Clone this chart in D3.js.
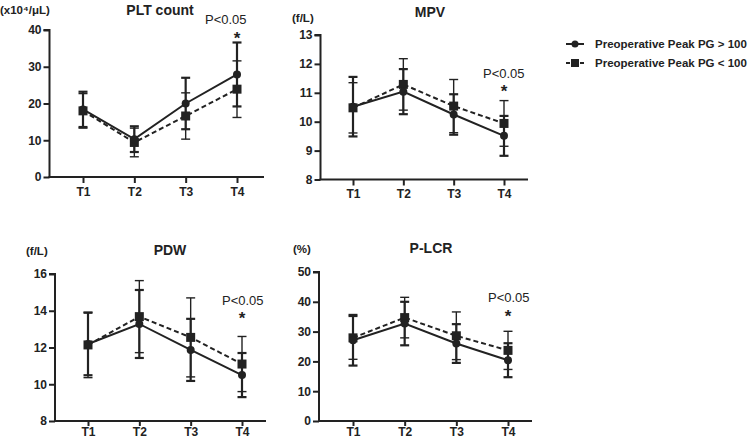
<!DOCTYPE html>
<html><head><meta charset="utf-8">
<script src="https://cdn.jsdelivr.net/npm/d3@7"></script>
<style>
body{margin:0;background:#fff;}
svg{font-family:Arial,"Liberation Sans",sans-serif;}
</style></head>
<body><svg id="c" width="751" height="440"></svg>
<script>
const categories = ["T1","T2","T3","T4"];
const seriesNames = ["Preoperative Peak PG > 100","Preoperative Peak PG < 100"];

// PLT count
const pltHighMean = [18.4, 10.3, 20.0, 27.9];
const pltHighSD   = [4.8, 3.5, 7.0, 8.7];
const pltLowMean  = [18.0, 9.4, 16.6, 23.9];
const pltLowSD    = [4.7, 3.9, 6.3, 7.7];
const pltTicks = [0,10,20,30,40];

// MPV
const mpvHighMean = [10.52, 11.04, 10.25, 9.51];
const mpvHighSD   = [1.03, 0.78, 0.70, 0.69];
const mpvLowMean  = [10.48, 11.29, 10.54, 9.94];
const mpvLowSD    = [0.87, 0.89, 0.92, 0.79];
const mpvTicks = [8,9,10,11,12,13];

// PDW
const pdwHighMean = [12.19, 13.28, 11.87, 10.5];
const pdwHighSD   = [1.70, 1.85, 1.69, 1.2];
const pdwLowMean  = [12.14, 13.68, 12.55, 11.1];
const pdwLowSD    = [1.78, 1.96, 2.15, 1.5];
const pdwTicks = [8,10,12,14,16];

// P-LCR
const plcrHighMean = [27.1, 32.7, 26.0, 20.4];
const plcrHighSD   = [8.5, 7.3, 6.5, 5.7];
const plcrLowMean  = [27.9, 34.7, 28.6, 23.7];
const plcrLowSD    = [7.2, 6.8, 8.0, 6.4];
const plcrTicks = [0,10,20,30,40,50];

const titles = ["PLT count","MPV","PDW","P-LCR"];
const units = ["(x10\u2074/\u03bcL)","(f/L)","(f/L)","(%)"];
const sigLabel = "P<0.05";

const svg = d3.select("#c");

const panels = [
  {title:titles[0], unit:units[0], hm:pltHighMean, hs:pltHighSD, lm:pltLowMean, ls:pltLowSD, ticks:pltTicks,
   x0:49.5, xEnd:264, xA:83, xB:237, yTop:30, yBot:177, unitX:0, unitY:14, titleX:160, titleY:15, pX:205, pY:24, starY:44, xt:6, xp:4},
  {title:titles[1], unit:units[1], hm:mpvHighMean, hs:mpvHighSD, lm:mpvLowMean, ls:mpvLowSD, ticks:mpvTicks,
   x0:320.5, xEnd:528, xA:353, xB:504, yTop:35, yBot:179.5, unitX:292, unitY:22, titleX:430, titleY:17, pX:483, pY:78, starY:97, xt:6, xp:4},
  {title:titles[2], unit:units[2], hm:pdwHighMean, hs:pdwHighSD, lm:pdwLowMean, ls:pdwLowSD, ticks:pdwTicks,
   x0:55, xEnd:266, xA:88, xB:242, yTop:274, yBot:421, unitX:26, unitY:255, titleX:170, titleY:255, pX:222, pY:305, starY:324, xt:5, xp:1},
  {title:titles[3], unit:units[3], hm:plcrHighMean, hs:plcrHighSD, lm:plcrLowMean, ls:plcrLowSD, ticks:plcrTicks,
   x0:319, xEnd:532, xA:353, xB:508, yTop:272, yBot:421, unitX:293, unitY:253, titleX:431, titleY:253, pX:488, pY:302, starY:322, xt:5, xp:1}
];

panels.forEach(p => {
  const g = svg.append("g");
  const x = d3.scalePoint().domain(categories).range([p.xA, p.xB]);
  const y = d3.scaleLinear().domain([p.ticks[0], p.ticks[p.ticks.length-1]]).range([p.yBot, p.yTop]);

  // y axis
  const ya = g.append("g").attr("transform",`translate(${p.x0},0)`)
    .call(d3.axisLeft(y).tickValues(p.ticks).tickSize(6).tickPadding(2).tickFormat(d3.format("d")));
  ya.select(".domain").attr("stroke","#222").attr("stroke-width",2).attr("d",`M-6,${p.yTop}H0V${p.yBot}`);
  ya.selectAll(".tick line").attr("stroke","#222").attr("stroke-width",2);
  ya.selectAll(".tick text").attr("font-size",12).attr("font-weight","bold").attr("fill","#222").attr("font-family","Arial, 'Liberation Sans', sans-serif");

  // x axis
  const xa = g.append("g").attr("transform",`translate(0,${p.yBot})`)
    .call(d3.axisBottom(x).tickSize(p.xt).tickPadding(p.xp));
  xa.select(".domain").attr("stroke","#222").attr("stroke-width",2).attr("d",`M${p.x0-1},0H${p.xEnd}`);
  xa.selectAll(".tick line").attr("stroke","#222").attr("stroke-width",2);
  xa.selectAll(".tick text").attr("font-size",12).attr("font-weight","bold").attr("fill","#222").attr("font-family","Arial, 'Liberation Sans', sans-serif");

  const groups = [
    {m:p.lm, s:p.ls, dash:"5,3", eb:1.4, shape:"square"},
    {m:p.hm, s:p.hs, dash:null, eb:2.2, shape:"circle"}
  ];
  groups.forEach(gr => {
    const eg = g.append("g");
    categories.forEach((c,i) => {
      const cx = x(c), hi = y(gr.m[i]+gr.s[i]), lo = y(gr.m[i]-gr.s[i]);
      eg.append("line").attr("x1",cx).attr("x2",cx).attr("y1",hi).attr("y2",lo).attr("stroke","#222").attr("stroke-width",gr.eb);
      [hi,lo].forEach(yy => eg.append("line").attr("x1",cx-4.5).attr("x2",cx+4.5).attr("y1",yy).attr("y2",yy).attr("stroke","#222").attr("stroke-width",gr.eb));
    });
  });
  groups.forEach(gr => {
    const line = d3.line().x((d,i)=>x(categories[i])).y(d=>y(d));
    g.append("path").attr("d",line(gr.m)).attr("fill","none").attr("stroke","#222").attr("stroke-width",2)
      .attr("stroke-dasharray",gr.dash);
  });
  groups.forEach(gr => {
    categories.forEach((c,i) => {
      const cx = x(c), cy = y(gr.m[i]);
      if (gr.shape==="circle") g.append("circle").attr("cx",cx).attr("cy",cy).attr("r",4).attr("fill","#222");
      else g.append("rect").attr("x",cx-4.5).attr("y",cy-4.5).attr("width",9).attr("height",9).attr("fill","#222");
    });
  });

  g.append("text").attr("x",p.titleX).attr("y",p.titleY).attr("text-anchor","middle")
    .attr("font-size",14).attr("font-weight","bold").attr("fill","#222").text(p.title);
  g.append("text").attr("x",p.unitX).attr("y",p.unitY)
    .attr("font-size",11.5).attr("font-weight","bold").attr("fill","#222").text(p.unit);
  g.append("text").attr("x",p.pX).attr("y",p.pY)
    .attr("font-size",13).attr("fill","#222").text(sigLabel);
  g.append("text").attr("x",x("T4")).attr("y",p.starY).attr("text-anchor","middle")
    .attr("font-size",17).attr("font-weight","bold").attr("fill","#222").text("*");
});

// legend
const leg = svg.append("g");
seriesNames.forEach((name,i) => {
  const ly = 44 + i*19;
  leg.append("line").attr("x1",566).attr("x2",584).attr("y1",ly).attr("y2",ly)
    .attr("stroke","#222").attr("stroke-width",2).attr("stroke-dasharray", i===1 ? "4,3" : null);
  if (i===0) leg.append("circle").attr("cx",575).attr("cy",ly).attr("r",3.5).attr("fill","#222");
  else leg.append("rect").attr("x",571).attr("y",ly-4).attr("width",8).attr("height",8).attr("fill","#222");
  leg.append("text").attr("x",595).attr("y",ly+4).attr("font-size",11.5).attr("font-weight","bold").attr("fill","#222").text(name);
});
</script></body></html>
